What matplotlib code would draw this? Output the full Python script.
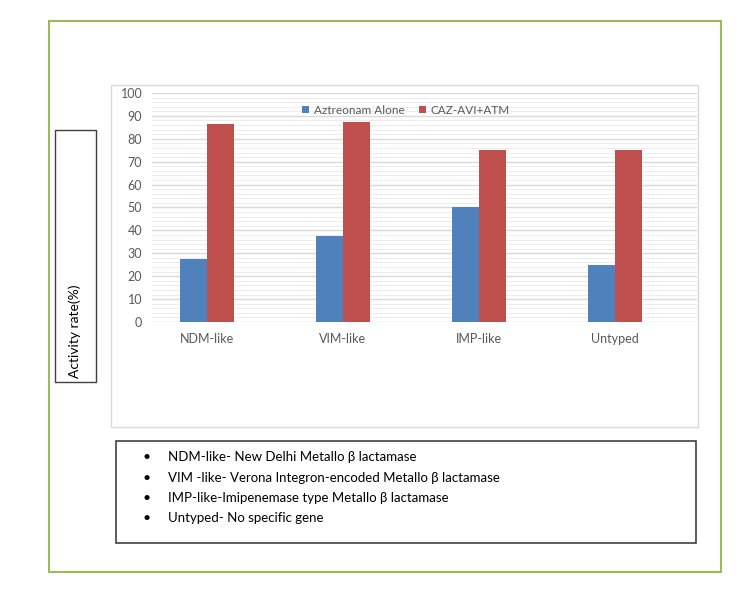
"""Activity rate of aztreonam alone vs CAZ-AVI+ATM by MBL gene type."""

import matplotlib.pyplot as plt
import numpy as np
from matplotlib.patches import Rectangle
from matplotlib.ticker import MultipleLocator

categories = ["NDM-like", "VIM-like", "IMP-like", "Untyped"]
aztreonam_alone = [27.3, 37.5, 50.0, 25.0]
caz_avi_atm = [86.4, 87.5, 75.0, 75.0]
series_names = ["Aztreonam Alone", "CAZ-AVI+ATM"]
notes = [
    "NDM-like- New Delhi Metallo \u03b2 lactamase",
    "VIM -like- Verona Integron-encoded Metallo \u03b2 lactamase",
    "IMP-like-Imipenemase type Metallo \u03b2 lactamase",
    "Untyped- No specific gene",
]

BLUE = "#4F81BD"
RED = "#C0504D"
GREEN = "#9BBB59"
W, H = 750, 604

plt.rcParams["font.family"] = ["Lato", "DejaVu Sans"]

fig = plt.figure(figsize=(W / 100, H / 100), dpi=100)


def box(x0, y0, x1, y1, color, lw):
    """Draw a rectangle given in pixel coords (top-left origin)."""
    fig.patches.append(Rectangle((x0 / W, 1 - y1 / H), (x1 - x0) / W, (y1 - y0) / H,
                                 transform=fig.transFigure, fill=False,
                                 edgecolor=color, linewidth=lw))


box(49, 21, 721, 572, GREEN, 1.5)
box(111, 85, 698, 427, "#D9D9D9", 1.0)
box(55, 130, 96, 382, "#404040", 1.0)
box(116, 441, 696, 543, "#404040", 1.2)

ax = fig.add_axes([152 / W, 1 - 322 / H, 545 / W, (322 - 93) / H])
x = np.arange(len(categories))
width = 0.2
ax.bar(x - width / 2, aztreonam_alone, width, color=BLUE, label=series_names[0], zorder=3)
ax.bar(x + width / 2, caz_avi_atm, width, color=RED, label=series_names[1], zorder=3)

# plot area in the original is not symmetric around the groups
ax.set_xlim(-0.404, len(categories) - 1 + 0.603)
ax.set_ylim(0, 100)
ax.yaxis.set_major_locator(MultipleLocator(10))
ax.yaxis.set_minor_locator(MultipleLocator(2))
ax.grid(axis="y", which="major", color="#D9D9D9", linewidth=1.0, zorder=0)
ax.grid(axis="y", which="minor", color="#EDEDED", linewidth=0.7, zorder=0)
ax.set_xticks(x)
ax.set_xticklabels(categories)
ax.tick_params(axis="both", which="both", length=0, labelsize=9, colors="#595959")
ax.tick_params(axis="x", pad=8)
ax.tick_params(axis="y", pad=7)
for side in ax.spines.values():
    side.set_visible(False)

ax.legend(loc="upper center", bbox_to_anchor=(0.466, 0.995), ncol=2, frameon=False,
          fontsize=8.5, labelcolor="#595959", handlelength=0.6, handleheight=0.6,
          handletextpad=0.4, columnspacing=1.2)

fig.text(75 / W, 1 - 331 / H, "Activity rate(%)", rotation=90, ha="center", va="center",
         fontsize=10, color="black")

for i, line in enumerate(notes):
    y = 1 - (457 + i * 20.5) / H
    fig.text(147 / W, y, "\u2022", ha="center", va="center", fontsize=10, color="black")
    fig.text(168 / W, y, line, ha="left", va="center", fontsize=9.5, color="black")

fig.savefig("out.png", dpi=100)
